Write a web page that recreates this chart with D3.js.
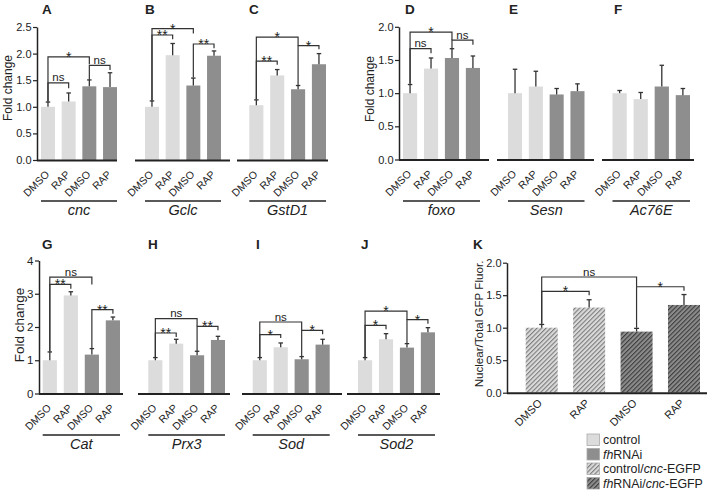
<!DOCTYPE html>
<html><head><meta charset="utf-8">
<script src="https://cdn.jsdelivr.net/npm/d3@7"></script>
<style>body{margin:0;background:#fff}svg{display:block;font-family:"Liberation Sans",Arial,sans-serif}</style>
</head><body><svg id="c" width="716" height="496"></svg>
<script>
// ---------- DATA ----------
const treatments = ['DMSO','RAP','DMSO','RAP'];
const genotypes = ['control','control','fhRNAi','fhRNAi'];
const geneNames = ['cnc','Gclc','GstD1','foxo','Sesn','Ac76E','Cat','Prx3','Sod','Sod2'];
const panelLetters = ['A','B','C','D','E','F','G','H','I','J','K'];

const meanCnc   = [1.00,1.10,1.385,1.37];  const errCnc   = [0.09,0.16,0.12,0.27];
const meanGclc  = [1.00,1.97,1.40,1.96];   const errGclc  = [0.11,0.22,0.14,0.09];
const meanGstD1 = [1.03,1.59,1.33,1.80];   const errGstD1 = [0.10,0.11,0.07,0.20];
const meanFoxo  = [1.00,1.37,1.53,1.38];   const errFoxo  = [0.13,0.16,0.14,0.18];
const meanSesn  = [1.00,1.10,0.98,1.03];   const errSesn  = [0.36,0.23,0.09,0.11];
const meanAc76E = [1.00,0.91,1.10,0.97];   const errAc76E = [0.04,0.10,0.32,0.10];
const meanCat   = [1.00,2.95,1.17,2.20];   const errCat   = [0.25,0.11,0.18,0.10];
const meanPrx3  = [1.00,1.50,1.15,1.61];   const errPrx3  = [0.08,0.13,0.12,0.11];
const meanSod   = [1.00,1.39,1.03,1.47];   const errSod   = [0.08,0.13,0.08,0.16];
const meanSod2  = [1.00,1.63,1.38,1.84];   const errSod2  = [0.08,0.17,0.12,0.14];
const meanNuc   = [1.00,1.31,0.94,1.35];   const errNuc   = [0.05,0.12,0.05,0.16];

// significance brackets: [fromBar, toBar, level, label, leftEnd, rightEnd]
const sigCnc   = [[0,1,1.45,'ns',1.10,1.35],[0,2,1.94,'*',1.10,1.80],[2,3,1.78,'ns',1.51,1.69]];
const sigGclc  = [[0,1,2.35,'**',1.12,2.27],[0,2,2.47,'*',1.12,2.38],[2,3,2.18,'**',1.55,2.10]];
const sigGstD1 = [[0,1,1.86,'**',1.14,1.79],[0,2,2.31,'*',1.14,2.15],[2,3,2.15,'*',1.41,2.08]];
const sigFoxo  = [[0,1,1.67,'ns',1.14,1.60],[0,2,1.92,'*',1.14,1.80],[2,3,1.80,'ns',1.68,1.73]];
const sigCat   = [[0,1,3.28,'**',1.26,3.15],[0,2,3.50,'ns',1.26,3.28],[2,3,2.52,'**',1.36,2.40]];
const sigPrx3  = [[0,1,1.82,'**',1.09,1.70],[0,2,2.25,'ns',1.09,2.02],[2,3,2.02,'**',1.28,1.90]];
const sigSod   = [[0,1,1.77,'*',1.09,1.67],[0,2,2.15,'ns',1.09,1.90],[2,3,1.90,'*',1.12,1.78]];
const sigSod2  = [[0,1,2.05,'*',1.09,1.93],[0,2,2.48,'*',1.09,2.22],[2,3,2.22,'*',1.51,2.10]];
const sigNuc   = [[0,1,1.56,'*',1.06,1.50],[0,2,1.78,'ns',1.06,1.63],[2,3,1.63,'*',1.00,1.57]];

const ticks25 = [0,0.5,1,1.5,2,2.5];
const ticks20 = [0,0.5,1,1.5,2];
const ticks4  = [0,1,2,3,4];

const legendLabels = [['control'],[['fh',true],['RNAi',false]],[['control/',false],['cnc',true],['-EGFP',false]],[['fh',true],['RNAi/',false],['cnc',true],['-EGFP',false]]];

// ---------- LAYOUT ----------
const svg = d3.select('#c');
const FONT = '"Liberation Sans",Arial,sans-serif';
const cLight = '#dcdcdc', cDark = '#8e8e8e', ink = '#222';

const defs = svg.append('defs');
function hatch(id, bg, fg){
  const p = defs.append('pattern').attr('id',id).attr('patternUnits','userSpaceOnUse')
    .attr('width',3.2).attr('height',3.2).attr('patternTransform','rotate(45)');
  p.append('rect').attr('width',3.2).attr('height',3.2).attr('fill',bg);
  p.append('rect').attr('x',0).attr('y',0).attr('width',1.1).attr('height',3.2).attr('fill',fg);
}
hatch('hl','#dadada','#7c7c7c');
hatch('hd','#8c8c8c','#3c3c3c');

const yA = d3.scaleLinear().domain([0,2.5]).range([160,27]);
const yD = d3.scaleLinear().domain([0,2]).range([159.5,26.8]);
const yG = d3.scaleLinear().domain([0,4]).range([393.5,260.5]);
const yK = d3.scaleLinear().domain([0,2]).range([392.7,262.7]);

const panels = [
 {L:0,gene:0,mean:meanCnc,err:errCnc,sig:sigCnc,y:yA,bars:[41,117],axis:[37,117],ticks:ticks25,fmt:'.1f',lx:42,ly:14,lab:'Fold change',labX:12,labY:88},
 {L:1,gene:1,mean:meanGclc,err:errGclc,sig:sigGclc,y:yA,bars:[145,221],axis:[135,230],lx:145,ly:14},
 {L:2,gene:2,mean:meanGstD1,err:errGstD1,sig:sigGstD1,y:yA,bars:[249.3,326],axis:[237,328],lx:249,ly:14},
 {L:3,gene:3,mean:meanFoxo,err:errFoxo,sig:sigFoxo,y:yD,bars:[403,480],axis:[399,489],ticks:ticks20,fmt:'.1f',lx:405,ly:14,lab:'Fold change',labX:374,labY:89},
 {L:4,gene:4,mean:meanSesn,err:errSesn,sig:[],y:yD,bars:[508,584.5],axis:[497,594],lx:509,ly:14},
 {L:5,gene:5,mean:meanAc76E,err:errAc76E,sig:[],y:yD,bars:[612.5,690],axis:[602,694],lx:614,ly:14},
 {L:6,gene:6,mean:meanCat,err:errCat,sig:sigCat,y:yG,bars:[42.7,120],axis:[39,123],ticks:ticks4,fmt:'d',lx:42,ly:249,lab:'Fold change',labX:24,labY:325},
 {L:7,gene:7,mean:meanPrx3,err:errPrx3,sig:sigPrx3,y:yG,bars:[148.3,225],axis:[138,230],lx:148,ly:249},
 {L:8,gene:8,mean:meanSod,err:errSod,sig:sigSod,y:yG,bars:[252.7,329.7],axis:[242,342],lx:256,ly:249},
 {L:9,gene:9,mean:meanSod2,err:errSod2,sig:sigSod2,y:yG,bars:[358,435],axis:[347,440],lx:361,ly:249},
 {L:10,gene:-1,mean:meanNuc,err:errNuc,sig:sigNuc,y:yK,bars:[525.7,700],axis:[507,707],ticks:ticks20,fmt:'.1f',lx:473,ly:249,lab:'Nuclear/Total GFP Fluor.',labX:483,labY:324,hatched:true}
];

panels.forEach(p => {
  const g = svg.append('g');
  const x = d3.scaleBand().domain(d3.range(4)).range(p.bars).paddingInner(0.325).paddingOuter(0);
  const y = p.y, base = y(0), bw = x.bandwidth();
  const cx = i => x(i) + bw/2;

  // bars
  g.selectAll('rect.bar').data(p.mean).join('rect')
    .attr('x',(d,i)=>x(i)).attr('width',bw)
    .attr('y',d=>y(d)).attr('height',d=>base-y(d))
    .attr('fill',(d,i)=> p.hatched ? (genotypes[i]==='control'?'url(#hl)':'url(#hd)') : (genotypes[i]==='control'?cLight:cDark));

  // error bars
  const capW = p.hatched ? 5 : 4.5;
  p.mean.forEach((m,i)=>{
    const top = y(m + p.err[i]);
    g.append('line').attr('x1',cx(i)).attr('x2',cx(i)).attr('y1',y(m)).attr('y2',top).attr('stroke','#333').attr('stroke-width',1.3);
    g.append('line').attr('x1',cx(i)-capW/2).attr('x2',cx(i)+capW/2).attr('y1',top).attr('y2',top).attr('stroke','#333').attr('stroke-width',1.3);
  });

  // x axis line
  g.append('line').attr('x1',p.axis[0]).attr('x2',p.axis[1]).attr('y1',base+0.5).attr('y2',base+0.5).attr('stroke',ink).attr('stroke-width',2);

  // y axis
  if (p.ticks){
    const ax = g.append('g').attr('transform',`translate(${p.axis[0]},0)`)
      .call(d3.axisLeft(y).tickValues(p.ticks).tickFormat(d3.format(p.fmt)).tickSize(4).tickSizeOuter(0).tickPadding(1.5));
    ax.select('.domain').attr('stroke',ink).attr('stroke-width',1.5);
    ax.selectAll('.tick line').attr('stroke',ink).attr('stroke-width',1.2);
    ax.selectAll('.tick text').attr('font-family',FONT).attr('font-size',p.L===6?11.5:11).attr('fill',ink);
    svg.append('text').attr('transform',`translate(${p.labX},${p.labY}) rotate(-90)`)
      .attr('text-anchor','middle').attr('font-size',p.hatched?11.6:(p.L===6?13.5:12)).attr('fill',ink).text(p.lab);
  }

  // rotated tick labels
  treatments.forEach((t,i)=>{
    const dx = p.hatched ? 1 : 2, dy = p.hatched ? 11 : 15;
    g.append('text').attr('transform',`translate(${cx(i)+dx},${base+dy}) rotate(-45)`)
      .attr('text-anchor','end').attr('font-size',p.hatched?11:10.5).attr('fill',ink).text(t);
  });

  // gene group
  if (p.gene>=0){
    const uy = p.L<6 ? 201 : 435;
    g.append('line').attr('x1',x(0)).attr('x2',x(3)+bw).attr('y1',uy).attr('y2',uy).attr('stroke',ink).attr('stroke-width',1.6);
    g.append('text').attr('x',(x(0)+x(3)+bw)/2).attr('y',uy+13.5).attr('text-anchor','middle')
      .attr('font-size',14.5).attr('font-style','italic').attr('fill',ink).text(geneNames[p.gene]);
  }

  // significance brackets
  p.sig.forEach(s=>{
    const [a,b,lv,lab,le,re] = s;
    g.append('path').attr('d',`M${cx(a)},${y(le)}V${y(lv)}H${cx(b)}V${y(re)}`)
      .attr('fill','none').attr('stroke','#333').attr('stroke-width',1.2);
    const star = lab.indexOf('*')>=0;
    g.append('text').attr('x',(cx(a)+cx(b))/2).attr('y',y(lv)+(star?5:-1.5)).attr('text-anchor','middle')
      .attr('font-size',star?14:11.5).attr('fill',ink).text(lab);
  });

  // panel letter
  svg.append('text').attr('x',p.lx).attr('y',p.ly).attr('font-weight','bold').attr('font-size',13.5).attr('fill',ink).text(panelLetters[p.L]);
});

// legend
const legFill = [cLight,cDark,'url(#hl)','url(#hd)'];
const legY = [434,448.5,463,477.5];
legendLabels.forEach((parts,i)=>{
  svg.append('rect').attr('x',587).attr('y',legY[i]).attr('width',12.5).attr('height',11.5)
    .attr('fill',legFill[i]).attr('stroke','#aaa').attr('stroke-width',0.8);
  const t = svg.append('text').attr('x',603).attr('y',legY[i]+10.3).attr('font-size',12.4).attr('fill',ink);
  if (typeof parts[0]==='string') t.text(parts[0]);
  else parts.forEach(([s,it])=>t.append('tspan').attr('font-style',it?'italic':'normal').text(s));
});
</script></body></html>
